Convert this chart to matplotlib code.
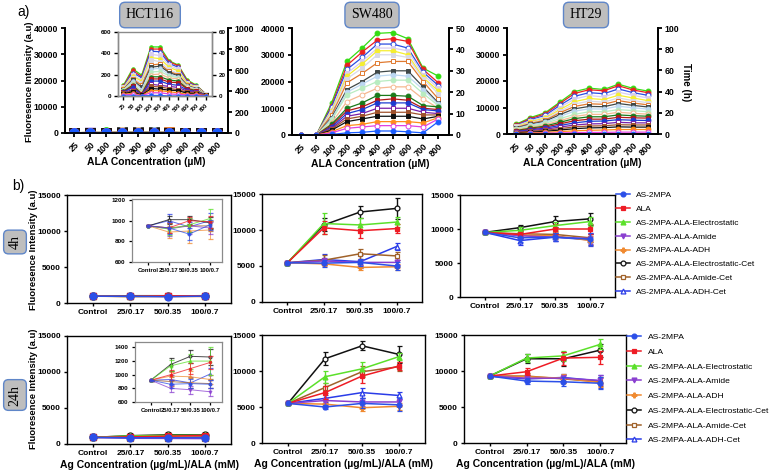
import matplotlib.pyplot as plt
from matplotlib.lines import Line2D
import numpy as np

plt.rcParams['font.family'] = ['Liberation Sans', 'DejaVu Sans']

# ---------------- a) ALA concentration curves (one line per time point) ----------------
conc = ['25', '50', '100', '200', '300', '400', '500', '600', '700', '800']

hct116_curves = [
    [100, 255, 195, 460, 460, 330, 290, 150, 100, 20],
    [90, 240, 180, 440, 440, 320, 285, 140, 95, 20],
    [85, 220, 170, 420, 415, 305, 270, 130, 90, 18],
    [80, 200, 150, 390, 380, 290, 250, 120, 85, 17],
    [75, 185, 140, 360, 350, 270, 235, 115, 80, 16],
    [70, 170, 120, 340, 320, 250, 210, 105, 75, 15],
    [65, 160, 100, 290, 300, 230, 200, 100, 70, 14],
    [60, 150, 80, 270, 280, 220, 190, 95, 68, 13],
    [58, 140, 60, 250, 260, 200, 180, 90, 65, 12],
    [55, 120, 40, 225, 230, 190, 170, 85, 60, 12],
    [50, 110, 30, 200, 205, 170, 160, 80, 55, 11],
    [45, 100, 20, 180, 180, 150, 140, 70, 50, 10],
    [40, 90, 15, 160, 160, 130, 125, 65, 45, 10],
    [35, 80, 12, 140, 140, 110, 100, 55, 40, 9],
    [30, 60, 10, 110, 100, 90, 80, 45, 35, 8],
    [25, 50, 8, 90, 85, 70, 60, 35, 30, 7],
    [20, 40, 6, 70, 65, 55, 50, 25, 20, 6],
    [15, 25, 4, 50, 50, 40, 30, 15, 15, 5],
    [10, 15, 3, 30, 30, 20, 15, 10, 10, 4],
    [0, 0, 0, 5, 5, 0, 0, 0, 0, 0],
]

sw480_curves = [
    [0, 0, 12000, 27500, 32500, 38000, 38300, 36000, 25000, 22000],
    [0, 0, 11000, 26000, 31000, 35500, 36000, 35000, 24500, 19500],
    [0, 0, 10500, 24500, 29000, 34000, 34000, 32500, 23500, 18500],
    [0, 0, 9500, 23000, 27500, 32500, 32500, 31500, 22500, 17500],
    [0, 0, 9000, 22000, 26500, 31500, 31500, 30000, 21500, 16500],
    [0, 0, 8500, 21000, 25000, 30000, 30000, 29000, 21000, 15500],
    [0, 0, 7500, 19500, 23000, 27000, 27500, 27500, 20000, 13500],
    [0, 0, 6500, 17000, 20000, 23500, 24000, 24000, 18000, 12000],
    [0, 0, 6000, 16000, 19000, 22000, 22500, 22000, 17000, 11500],
    [0, 0, 5500, 15000, 17500, 20000, 20500, 20500, 15500, 11000],
    [0, 0, 4500, 12500, 15000, 17500, 18000, 18000, 13500, 10000],
    [0, 0, 4000, 10000, 12000, 14800, 14800, 14500, 11000, 10500],
    [0, 0, 3500, 9000, 10500, 13000, 13500, 13000, 10000, 9500],
    [0, 0, 3000, 8000, 9500, 12000, 12000, 12000, 9500, 9000],
    [0, 0, 2500, 7000, 8000, 10000, 10000, 10000, 8500, 8000],
    [0, 0, 2200, 6000, 7000, 8500, 8500, 8500, 7500, 7500],
    [0, 0, 1800, 5000, 6000, 7000, 7000, 7000, 6000, 7000],
    [0, 0, 1200, 3500, 4000, 5000, 5000, 5000, 4500, 6500],
    [0, 0, 800, 2500, 3000, 3500, 3500, 3500, 3000, 6000],
    [0, 0, 200, 800, 1000, 1500, 1500, 1200, 800, 5000],
]

ht29_curves = [
    [3600, 6200, 8000, 12000, 16000, 17300, 16800, 18800, 17200, 16200],
    [3400, 5800, 7600, 11500, 15300, 16700, 16300, 18200, 16600, 15600],
    [3200, 5400, 7000, 10800, 14200, 15600, 15200, 17000, 15600, 14600],
    [3000, 5000, 6500, 10000, 13200, 14500, 14000, 15800, 14600, 13600],
    [2800, 4600, 6000, 9200, 12200, 13400, 13000, 14600, 13600, 12600],
    [2600, 4300, 5600, 8600, 11300, 12400, 12000, 13600, 12600, 11800],
    [2400, 4000, 5200, 8000, 10400, 11400, 11200, 12600, 11700, 11000],
    [2200, 3700, 4800, 7300, 9500, 10400, 10300, 11500, 10800, 10200],
    [2000, 3400, 4400, 6600, 8600, 9500, 9400, 10500, 9900, 9400],
    [1800, 3000, 4000, 5800, 7400, 8400, 8400, 9200, 8800, 8400],
    [1500, 2600, 3500, 5000, 6600, 7400, 7400, 8200, 7800, 7500],
    [1300, 2200, 3000, 4400, 5800, 6500, 6500, 7200, 6900, 6700],
    [1100, 1900, 2600, 3800, 5000, 5600, 5600, 6300, 6100, 6000],
    [900, 1600, 2200, 3200, 4200, 4800, 4900, 5400, 5200, 5100],
    [700, 1300, 1800, 2600, 3400, 3800, 3900, 4400, 4200, 4200],
    [500, 1000, 1400, 2000, 2700, 3000, 3100, 3500, 3400, 3400],
    [400, 700, 1000, 1500, 2000, 2300, 2400, 2700, 2600, 2600],
    [200, 400, 600, 900, 1200, 1400, 1500, 1700, 1700, 1700],
    [100, 200, 300, 400, 500, 600, 600, 700, 700, 700],
    [0, 0, 0, 0, 0, 0, 0, 0, 0, 0],
]

a_colors = ['#33dd11', '#ee2020', '#2a4de0', '#d8cdf0', '#f5ee30', '#d9d9e6', '#e07a30',
            '#404848', '#bcd8f2', '#b8ecc0', '#f5b890', '#1a7a1a', '#b01818', '#1c3cd0',
            '#7a1fa8', '#a0522d', '#101010', '#ff8c1a', '#e040e0', '#1a5cff']
a_markers = ['o', 'o', 'o', 's', 'o', 's', 's', 's', 'o', 'o', 'o', 'o', 's', 'o', 's',
             's', 's', 'o', 'o', 'o']

# ---------------- b) Ag / ALA dose response ----------------
doses = ['Control', '25/0.17', '50/0.35', '100/0.7']
b_names = ['AS-2MPA', 'ALA', 'AS-2MPA-ALA-Electrostatic', 'AS-2MPA-ALA-Amide',
           'AS-2MPA-ALA-ADH', 'AS-2MPA-ALA-Electrostatic-Cet', 'AS-2MPA-ALA-Amide-Cet',
           'AS-2MPA-ALA-ADH-Cet']

hct_4h = [[950, 930, 870, 960], [950, 930, 1000, 990], [950, 920, 960, 1020],
          [950, 920, 950, 930], [950, 890, 900, 910], [950, 1010, 1010, 980],
          [950, 930, 950, 950], [950, 1000, 940, 1000]]
hct_4h_err = [[5, 60, 60, 50], [5, 50, 40, 60], [5, 60, 70, 90], [5, 70, 80, 60],
              [5, 60, 120, 90], [5, 40, 40, 60], [5, 50, 60, 50], [5, 60, 50, 70]]

sw_4h = [[5450, 5400, 5500, 5000], [5450, 10300, 9900, 10200], [5450, 10900, 10700, 11100],
         [5450, 5700, 5500, 5500], [5450, 5300, 4800, 4900], [5450, 10700, 12500, 13000],
         [5450, 5800, 6700, 6400], [5450, 5900, 5600, 7700]]
sw_4h_err = [[100, 500, 500, 600], [100, 900, 1000, 600], [100, 1500, 1000, 700],
             [100, 400, 400, 400], [100, 300, 400, 400], [100, 900, 800, 1500],
             [100, 700, 700, 500], [100, 700, 900, 500]]

ht_4h = [[9500, 8700, 8800, 8500], [9500, 9200, 10000, 10000], [9500, 9800, 10500, 11100],
         [9500, 9000, 8800, 8600], [9500, 9100, 9000, 8300], [9500, 10200, 11100, 11500],
         [9500, 9300, 9200, 8700], [9500, 8300, 8800, 8400]]
ht_4h_err = [[100, 600, 600, 900], [100, 500, 800, 700], [100, 500, 600, 700],
             [100, 500, 600, 800], [100, 400, 500, 600], [100, 400, 800, 900],
             [100, 400, 500, 600], [100, 600, 600, 900]]

hct_24h = [[920, 860, 870, 860], [920, 1000, 1090, 1180], [920, 1130, 1200, 1200],
           [920, 800, 780, 750], [920, 980, 970, 930], [920, 1150, 1270, 1260],
           [920, 900, 880, 870], [920, 930, 880, 1010]]
hct_24h_err = [[10, 60, 70, 60], [10, 70, 80, 100], [10, 80, 110, 210], [10, 50, 60, 60],
               [10, 60, 80, 70], [10, 100, 100, 120], [10, 60, 70, 70], [10, 60, 80, 90]]

sw_24h = [[5500, 5000, 5500, 5300], [5500, 7000, 9300, 10700], [5500, 9200, 10300, 12000],
          [5500, 5900, 5700, 5700], [5500, 5400, 4900, 5100], [5500, 11700, 13500, 12300],
          [5500, 7700, 9900, 10600], [5500, 6200, 7000, 6600]]
sw_24h_err = [[100, 300, 700, 900], [100, 900, 900, 600], [100, 800, 1000, 500],
              [100, 400, 500, 400], [100, 400, 500, 500], [100, 900, 600, 1200],
              [100, 700, 800, 600], [100, 500, 700, 500]]

ht_24h = [[9300, 8600, 8500, 8300], [9300, 9900, 11800, 11900], [9300, 11800, 12100, 13700],
          [9300, 9000, 9000, 8700], [9300, 9200, 9000, 8400], [9300, 11700, 11700, 12900],
          [9300, 9300, 8900, 8500], [9300, 8900, 9100, 8600]]
ht_24h_err = [[200, 400, 600, 800], [200, 500, 900, 900], [200, 600, 700, 700],
              [200, 400, 500, 700], [200, 400, 600, 600], [200, 600, 1000, 900],
              [200, 400, 500, 600], [200, 400, 500, 900]]

b_colors = ['#2b4fe8', '#ee1c25', '#5be02a', '#8a3fd0', '#f08a30', '#111111', '#a0622a', '#2a3ce8']
b_markers = ['o', 's', '^', 'v', 'P', 'o', 's', '^']
b_open = [False, False, False, False, False, True, True, True]

W, H = 776, 475
fig = plt.figure(figsize=(W / 100, H / 100), dpi=100)


def px_axes(l, t, r, b):
    return fig.add_axes([l / W, 1 - b / H, (r - l) / W, (b - t) / H])


def make_bold(ax):
    for lab in ax.get_xticklabels() + ax.get_yticklabels():
        lab.set_fontweight('bold')


def conc_panel(ax, curves, right_max, right_step, ms, fs=6.3, frame='black', lw=1.3):
    x = np.arange(len(conc))
    for i, s in enumerate(curves):
        c = a_colors[i % len(a_colors)]
        ax.plot(x, s, color=c, lw=0.9, marker=a_markers[i], ms=ms,
                mfc=c if i % 4 != 2 else 'white', mew=0.7, zorder=3)
    ax.set_xlim(-0.6, 9.7)
    ax.set_xticks(x)
    ax.set_xticklabels(conc, rotation=45, ha='right', rotation_mode='anchor')
    ax.spines['top'].set_visible(False)
    for sp in ax.spines.values():
        sp.set_linewidth(lw)
        sp.set_color(frame)
    ax.tick_params(labelsize=fs, width=lw, length=3, pad=2)
    make_bold(ax)
    tw = ax.twinx()
    tw.set_ylim(0, right_max)
    tw.set_yticks(np.arange(0, right_max + 1, right_step))
    tw.spines['top'].set_visible(False)
    for sp in tw.spines.values():
        sp.set_linewidth(lw)
        sp.set_color(frame)
    tw.tick_params(labelsize=fs, width=lw, length=3, pad=2)
    make_bold(tw)
    return tw


# a) main panels
a1 = px_axes(65, 28, 228, 133)
a1.set_ylim(0, 40000)
a1.set_yticks(range(0, 40001, 10000))
conc_panel(a1, hct116_curves, 1000, 200, 7)

a1in = px_axes(118, 32, 212, 96)
a1in.set_ylim(0, 600)
a1in.set_yticks([0, 200, 400, 600])
conc_panel(a1in, hct116_curves, 60, 20, 2.5, fs=4.5, frame='#8a8a8a', lw=1)
a1in.spines['top'].set_visible(True)
for lab in a1in.get_xticklabels():
    lab.set_fontsize(4)

a2 = px_axes(292, 28, 449, 135)
a2.set_ylim(0, 40000)
a2.set_yticks(range(0, 40001, 10000))
conc_panel(a2, sw480_curves, 50, 10, 3.5)

a3 = px_axes(507, 28, 658, 134)
a3.set_ylim(0, 40000)
a3.set_yticks(range(0, 40001, 10000))
conc_panel(a3, ht29_curves, 100, 20, 3.5)

for a in (a1, a2, a3):
    a.set_xlabel('ALA Concentration (\u00b5M)', fontsize=7.5, fontweight='bold', labelpad=0)

fig.text(29 / W, 1 - 82 / H, 'Fluoresence Intensity (a.u)', rotation=90, ha='center', va='center',
         fontsize=6.8, fontweight='bold')
fig.text(686 / W, 1 - 82 / H, 'Time (h)', rotation=270, ha='center', va='center',
         fontsize=7, fontweight='bold')

box = dict(boxstyle='round,pad=0.45,rounding_size=0.4', fc='#bebebe', ec='#5f86c8', lw=1)
for name, xc in (('HCT116', 150), ('SW480', 372), ('HT29', 586)):
    fig.text(xc / W, 1 - 15 / H, name, ha='center', va='center', fontsize=10,
             family='Liberation Serif', bbox=box)

fig.text(17 / W, 1 - 12 / H, 'a)', ha='left', va='center', fontsize=10)
fig.text(12 / W, 1 - 186 / H, 'b)', ha='left', va='center', fontsize=10)


# b) dose panels
def dose_panel(ax, vals, errs, ylim, yticks, ms=3.5, lw=1.1, fs=6, frame='black', flw=1.0, alpha=1.0):
    x = np.arange(len(doses))
    for k in range(len(b_names)):
        c = b_colors[k]
        ax.errorbar(x, vals[k], yerr=errs[k], color=c, marker=b_markers[k], ms=ms, lw=lw,
                    mfc='white' if b_open[k] else c, mec=c, mew=0.9, capsize=1.8,
                    elinewidth=lw * 0.9, capthick=lw * 0.9, alpha=alpha, zorder=3 + (7 - k) * 0.1)
    ax.set_xlim(-0.7, 3.7)
    ax.set_ylim(*ylim)
    ax.set_yticks(yticks)
    ax.set_xticks(x)
    ax.set_xticklabels(doses)
    for sp in ax.spines.values():
        sp.set_linewidth(flw)
        sp.set_color(frame)
    ax.tick_params(labelsize=fs, width=flw, length=2.5, pad=2)
    make_bold(ax)


big_ticks = [0, 5000, 10000, 15000]
b11 = px_axes(67, 195, 231, 303)
dose_panel(b11, hct_4h, hct_4h_err, (0, 15000), big_ticks, ms=5)
b12 = px_axes(262, 194, 422, 302)
dose_panel(b12, sw_4h, sw_4h_err, (0, 15000), big_ticks)
b13 = px_axes(460, 195, 615, 297)
dose_panel(b13, ht_4h, ht_4h_err, (0, 15000), big_ticks)

b21 = px_axes(67, 336, 231, 444)
dose_panel(b21, hct_24h, hct_24h_err, (0, 15000), big_ticks, ms=5)
b22 = px_axes(262, 335, 425, 443)
dose_panel(b22, sw_24h, sw_24h_err, (0, 15000), big_ticks)
b23 = px_axes(464, 335, 626, 443)
dose_panel(b23, ht_24h, ht_24h_err, (0, 15000), big_ticks)

b11in = px_axes(132, 199, 222, 262)
dose_panel(b11in, hct_4h, hct_4h_err, (600, 1210), [600, 800, 1000, 1200], ms=2, lw=0.7,
           fs=4.5, frame='#8a8a8a', flw=0.9, alpha=0.75)
b11in.set_xlim(-0.8, 3.6)
b21in = px_axes(135, 342, 222, 402)
dose_panel(b21in, hct_24h, hct_24h_err, (600, 1480), [600, 800, 1000, 1200, 1400], ms=2, lw=0.7,
           fs=4.5, frame='#8a8a8a', flw=0.9, alpha=0.75)
b21in.set_xlim(-0.8, 3.6)
for a in (b11in, b21in):
    for lab in a.get_xticklabels():
        lab.set_fontsize(4.2)

for a in (b21, b22, b23):
    a.set_xlabel('Ag Concentration (\u00b5g/mL)/ALA (mM)', fontsize=7.5, fontweight='bold', labelpad=2)

for yc in (250, 389):
    fig.text(33 / W, 1 - yc / H, 'Fluoresence Intensity (a.u)', rotation=90, ha='center', va='center',
             fontsize=6.8, fontweight='bold')

side_box = dict(boxstyle='round,pad=0.35,rounding_size=0.35', fc='#bebebe', ec='#5f86c8', lw=1)
fig.text(15 / W, 1 - 242 / H, '4h', rotation=90, ha='center', va='center', fontsize=10,
         family='Liberation Serif', bbox=side_box)
fig.text(15 / W, 1 - 395 / H, '24h', rotation=90, ha='center', va='center', fontsize=10,
         family='Liberation Serif', bbox=side_box)

handles = [Line2D([], [], color=b_colors[k], marker=b_markers[k], ms=3.5, lw=1.1,
                  mfc='white' if b_open[k] else b_colors[k], mec=b_colors[k], mew=0.9)
           for k in range(len(b_names))]
fig.legend(handles, b_names, loc='upper left', bbox_to_anchor=(613 / W, 1 - 188 / H), frameon=False,
           fontsize=6, handlelength=1.6, handletextpad=0.8, labelspacing=0.72, borderaxespad=0)
fig.legend(handles, b_names, loc='upper left', bbox_to_anchor=(624 / W, 1 - 330 / H), frameon=False,
           fontsize=6.1, handlelength=1.6, handletextpad=0.8, labelspacing=0.8, borderaxespad=0)

fig.savefig('out.png', dpi=100)
